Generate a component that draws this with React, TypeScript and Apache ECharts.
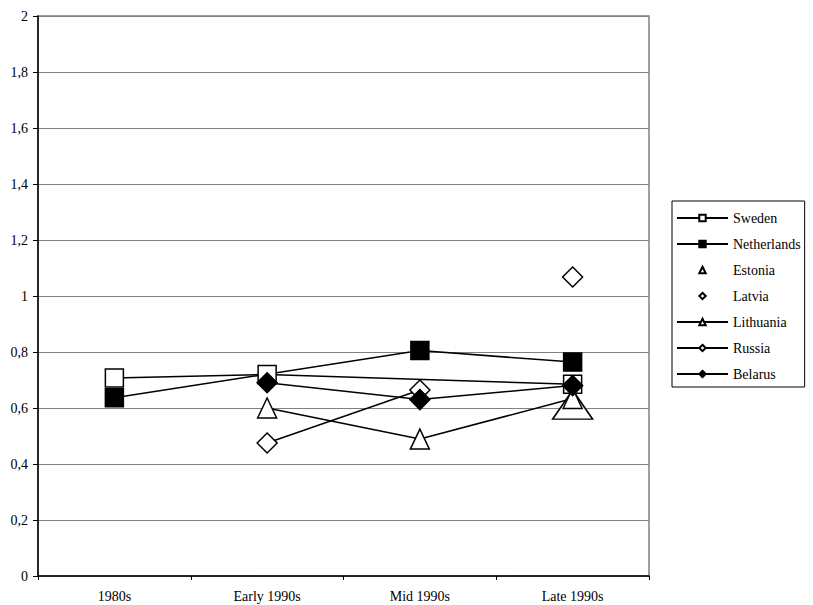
import React, { useEffect, useRef } from "react";
import * as echarts from "echarts";

const categories = ["1980s", "Early 1990s", "Mid 1990s", "Late 1990s"];
const sweden = [0.707, 0.72, null, 0.685];
const netherlands = [0.637, null, 0.805, 0.764];
const estonia = [null, null, null, 0.612];
const latvia = [null, null, null, 1.068];
const lithuania = [null, 0.6, 0.489, 0.634];
const russia = [null, 0.475, 0.664, null];
const belarus = [null, 0.69, 0.63, 0.68];

const FONT = "'Liberation Serif', 'Times New Roman', serif";

export default function App() {
  const ref = useRef<HTMLDivElement>(null);
  useEffect(() => {
    const chart = echarts.init(ref.current!, null, { renderer: "svg" });
    const mk = (
      name: string,
      data: (number | null)[],
      symbol: string,
      size: any,
      fill: string,
      showLine: boolean,
      bigIndex?: number
    ) => ({
      name,
      type: "line",
      data: data.map((v, i) =>
        bigIndex === i && v !== null ? { value: v, symbolSize: [40, 29] } : v
      ),
      symbol,
      symbolSize: size,
      showSymbol: true,
      showAllSymbol: true,
      connectNulls: true,
      lineStyle: showLine
        ? { color: "#000", width: 1.5 }
        : { color: "#000", width: 0, opacity: 0 },
      itemStyle: { color: fill, borderColor: "#000", borderWidth: 1.5 },
      emphasis: { disabled: true },
    });
    chart.setOption({
      animation: false,
      grid: {
        left: 38,
        right: 164,
        top: 16,
        bottom: 29,
        show: true,
        borderColor: "#808080",
        borderWidth: 1.5,
      },
      xAxis: {
        type: "category",
        data: categories,
        boundaryGap: true,
        axisLine: { lineStyle: { color: "#000", width: 1.5 } },
        axisTick: { show: true, length: 4, lineStyle: { color: "#000" } },
        axisLabel: { color: "#000", fontFamily: FONT, fontSize: 14, margin: 13 },
      },
      yAxis: {
        type: "value",
        min: 0,
        max: 2,
        interval: 0.2,
        axisLine: { show: true, lineStyle: { color: "#000", width: 1.5 } },
        axisTick: { show: true, length: 5, lineStyle: { color: "#000" } },
        splitLine: { lineStyle: { color: "#808080", width: 1 } },
        axisLabel: {
          color: "#000",
          fontFamily: FONT,
          fontSize: 14,
          margin: 10,
          formatter: (v: number) => String(Number(v.toFixed(1))).replace(".", ","),
        },
      },
      legend: {
        orient: "vertical",
        left: 672,
        top: 201,
        itemWidth: 51,
        itemHeight: 8,
        itemGap: 12,
        padding: [10, 4, 6, 4],
        borderColor: "#000",
        borderWidth: 1,
        backgroundColor: "#fff",
        textStyle: { color: "#000", fontFamily: FONT, fontSize: 14 },
        data: ["Sweden", "Netherlands", "Estonia", "Latvia", "Lithuania", "Russia", "Belarus"],
      },
      series: [
        mk("Sweden", sweden, "rect", 18, "#fff", true),
        mk("Netherlands", netherlands, "rect", 18, "#000", true),
        mk("Estonia", estonia, "triangle", [19, 20], "#fff", false, 3),
        mk("Latvia", latvia, "diamond", 20, "#fff", false),
        mk("Lithuania", lithuania, "triangle", [19, 20], "#fff", true),
        mk("Russia", russia, "diamond", 20, "#fff", true),
        mk("Belarus", belarus, "diamond", 20, "#000", true),
      ],
    });
    return () => chart.dispose();
  }, []);
  return (
    <div
      ref={ref}
      style={{ position: "fixed", left: 0, top: 0, width: 813, height: 605, background: "#fff" }}
    />
  );
}
